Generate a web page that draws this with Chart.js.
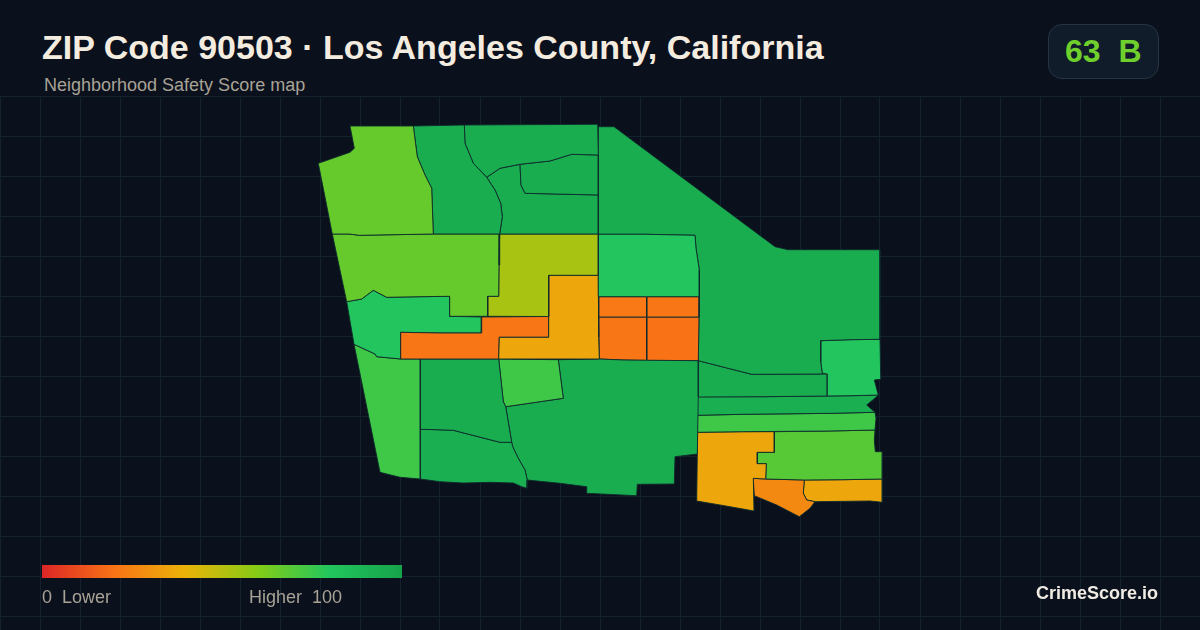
<!DOCTYPE html>
<html>
<head>
<meta charset="utf-8">
<title>ZIP Code 90503</title>
<script src="https://cdn.jsdelivr.net/npm/chart.js@4"></script>
<style>
  html, body { margin: 0; padding: 0; }
  body { width: 1200px; height: 630px; overflow: hidden; position: relative; background: #0a101c; font-family: "Liberation Sans", Arial, sans-serif; }
  #wrap { position: absolute; left: 0; top: 96px; width: 1200px; height: 534px; }
  .txt { position: absolute; white-space: pre; line-height: 1; }
  #title { left: 42px; top: 30px; font-size: 34px; font-weight: bold; color: #f5ece0; }
  #subtitle { left: 44px; top: 76px; font-size: 18px; color: #a8a296; }
  #badge { position: absolute; left: 1048px; top: 24px; width: 109px; height: 53px; border: 1px solid #263442; border-radius: 14px; background: #111c2a; }
  #grade { left: 1065px; top: 35px; font-size: 32px; font-weight: bold; color: #6fcf2c; }
  #ramp { position: absolute; left: 42px; top: 565px; width: 360px; height: 13px; }
  #low { left: 42px; top: 588px; font-size: 18px; color: #a8a296; }
  #high { left: 249px; top: 588px; font-size: 18px; color: #a8a296; }
  #brand { left: 1036px; top: 584px; font-size: 18px; font-weight: bold; color: #f0ece4; }
</style>
</head>
<body>
<div id="wrap"><canvas id="mapa"></canvas></div>
<div class="txt" id="title">ZIP Code 90503 · Los Angeles County, California</div>
<div class="txt" id="subtitle">Neighborhood Safety Score map</div>
<div id="badge"></div>
<div class="txt" id="grade">63  B</div>
<div id="ramp"></div>
<div class="txt" id="low">0  Lower</div>
<div class="txt" id="high">Higher  100</div>
<div class="txt" id="brand">CrimeScore.io</div>
<script>
// score ramp of the legend
const rampStops = [0, 20, 40, 60, 80, 100];
const rampColors = ["#dc2626", "#f97316", "#eab308", "#84cc16", "#22c55e", "#16a34a"];

// grid lines of the map frame
const gridX = [0, 40, 80, 120, 160, 200, 240, 280, 320, 360, 400, 440, 480, 520, 560, 600, 640, 680, 720, 760, 800, 840, 880, 920, 960, 1000, 1040, 1080, 1120, 1160, 1200];
const gridY = [96, 136, 176, 216, 256, 296, 336, 376, 416, 456, 496, 536, 576, 616];

// one score per neighborhood, same order as tractOutlines
const tractScores = [66, 94, 94, 94, 94, 66, 53, 80, 36, 21, 80, 74, 94, 93, 74, 94, 22, 21, 21, 20, 94, 80, 94, 93, 74, 36, 69, 27, 36];

// neighborhood outlines
const tractOutlines = [
  [[350,126],[354.3,148.3],[350,152.3],[318.3,163.3],[332.3,234],[349,234],[359.3,235.3],[433.3,234],[431.7,188.3],[425,175],[417.3,156.7],[413.3,126]],
  [[413.3,126],[464.3,125],[465,143.3],[473.3,163.3],[486.7,177.3],[495,190],[500.7,203.3],[502.3,216.7],[499.7,234],[433.3,234],[431.7,188.3],[425,175],[417.3,156.7]],
  [[464.3,125],[597.7,124.3],[598.3,155],[571.7,154.3],[550,161],[520,164.3],[500,168.3],[486.7,177.3],[473.3,163.3],[465,143.3]],
  [[520,164.3],[550,161],[571.7,154.3],[598.3,155],[598.3,195],[525,193.3],[521,185]],
  [[486.7,177.3],[500,168.3],[520,164.3],[521,185],[525,193.3],[598.3,195],[598.3,234],[499.7,234],[502.3,216.7],[500.7,203.3],[495,190]],
  [[332.3,234],[349,234],[359.3,235.3],[433.3,234],[499.7,234],[499,265],[498.7,296.3],[487.7,296.3],[487.7,316.3],[449.7,316.3],[449.7,296.3],[420,296.7],[386.7,297.3],[373.3,290.3],[361.7,299],[346.7,301.7]],
  [[499.7,234],[598.3,234],[598.3,275.3],[548.7,275.3],[548.7,316.5],[487.7,316.3],[487.7,296.3],[498.7,296.3],[499,265]],
  [[598.3,234.3],[646.7,234.3],[695,235.3],[696,248.3],[699.3,270],[699.3,296.7],[598.3,296.7]],
  [[548.7,275.3],[598.3,275.3],[598.7,296.7],[598.7,337],[599.3,359],[498.7,359],[499.3,337.3],[548.7,337.3]],
  [[400.7,332.3],[440,333],[481.3,333],[481.7,317],[548.7,316.5],[548.7,337.3],[499.3,337.3],[498.7,359],[400.7,359]],
  [[346.7,301.7],[361.7,299],[373.3,290.3],[386.7,297.3],[420,296.7],[449.7,296.3],[449.7,316.3],[481.7,317],[481.3,333],[440,333],[400.7,332.3],[400.7,359],[376.7,356.7],[375,354],[354,344.3]],
  [[354,344.3],[375,354],[376.7,356.7],[400.7,359],[420.3,359],[420.3,479],[400,477.3],[380,472.3]],
  [[420.3,359],[498.7,359],[503.3,401.7],[505.7,406.7],[511.7,442.3],[500,442.3],[453.3,430.3],[436.7,429.7],[420.3,429.3]],
  [[420.3,429.3],[436.7,429.7],[453.3,430.3],[500,442.3],[511.7,442.3],[512.7,446.7],[518.3,458.3],[525,470],[527.3,480],[527,488.3],[521.7,486.7],[513.3,483],[490,482.3],[463.3,483],[440,481.7],[420.3,479]],
  [[498.7,359],[558.3,359.7],[563.3,398.3],[505.7,406.7],[503.3,401.7]],
  [[558.3,359.7],[599.3,359],[623,360],[698.3,360.7],[698.3,396.7],[697.3,454],[686.7,455.3],[675,456.7],[674.3,484],[637.3,484.3],[636.7,495.7],[586.7,493.3],[586.7,486.7],[560,483.3],[527.3,480],[525,470],[518.3,458.3],[512.7,446.7],[511.7,442.3],[505.7,406.7],[563.3,398.3]],
  [[598.7,296.7],[646.7,296.7],[646.7,317],[598.7,317]],
  [[646.7,296.7],[699.3,296.7],[699,317],[646.7,317]],
  [[598.7,317],[646.7,317],[646.7,360.5],[623,360],[599.3,359]],
  [[646.7,317],[699,317],[698.3,360.7],[646.7,360.5]],
  [[598.3,126.7],[614,126.7],[775,246.7],[788,249.7],[880,249.7],[880,339.3],[850,339.7],[820.7,340.7],[820.7,361.7],[822.3,374],[751.7,374.3],[698.3,360.7],[699.3,296.7],[699.3,270],[696,248.3],[695,235.3],[646.7,234.3],[598.3,234.3],[598.3,195],[598.3,155]],
  [[820.7,340.7],[850,339.7],[880,339.3],[880.7,379.3],[874.3,380],[878.3,395],[852.7,395.7],[827.3,396],[827.3,374],[822.3,373.3],[820.7,361.7]],
  [[698.3,360.7],[751.7,374.3],[822.3,374],[827.3,374],[827.3,396],[763.3,396.7],[698.3,397]],
  [[697.3,396.7],[763.3,396.7],[827.3,396],[852.7,395.7],[878.3,395],[876.7,396.7],[866.7,405],[875,412.3],[833.3,413.3],[743.3,414.3],[697.3,415.3]],
  [[697.3,415.3],[743.3,414.3],[833.3,413.3],[875,412.3],[876,418.3],[875,430],[830,431],[741.7,431.7],[697.3,432.3]],
  [[697.3,432.3],[741.7,431.7],[774.3,431.7],[774.3,452.3],[757.3,452.3],[757.3,463.7],[766.3,463.7],[765.7,479],[760,478.7],[753.3,478.3],[754,511],[730,506.7],[696.7,501],[697.3,454]],
  [[774.3,431.7],[830,431],[875,430],[874.3,440],[875.3,451.7],[882.3,451.7],[882.3,479],[843.3,479.7],[804.3,480],[765.7,479],[766.3,463.7],[757.3,463.7],[757.3,452.3],[774.3,452.3]],
  [[753.3,478.3],[760,478.7],[765.7,479],[804.3,480],[803.3,493.3],[806.7,500],[815,501.7],[810,508.3],[799.3,516.7],[776.7,505],[754.3,495.7]],
  [[804.3,480],[843.3,479.7],[882.3,479],[882.3,502.3],[870,501],[815,501.7],[806.7,500],[803.3,493.3]]
];

const gridColor = "#142230";
const lineColor = "#0e2b2c";

function hexToRgb(hex) {
  return [1, 3, 5].map((i) => parseInt(hex.substr(i, 2), 16));
}

// colour of a score along the legend ramp
function scoreColor(score) {
  let i = 0;
  while (i < rampStops.length - 2 && score > rampStops[i + 1]) i++;
  const t = (score - rampStops[i]) / (rampStops[i + 1] - rampStops[i]);
  const a = hexToRgb(rampColors[i]);
  const b = hexToRgb(rampColors[i + 1]);
  const rgb = a.map((v, k) => Math.round(v + (b[k] - v) * t));
  return `rgb(${rgb[0]}, ${rgb[1]}, ${rgb[2]})`;
}

document.getElementById("ramp").style.background =
  "linear-gradient(to right, " + rampColors.map((c, i) => `${c} ${rampStops[i]}%`).join(", ") + ")";

const datasets = tractOutlines.map((outline, i) => ({
  label: "tract " + (i + 1),
  data: outline.concat([outline[0]]).map((p) => ({ x: p[0], y: p[1] })),
  showLine: true,
  fill: "shape",
  tension: 0,
  pointRadius: 0,
  backgroundColor: scoreColor(tractScores[i]),
  borderColor: lineColor,
  borderWidth: 0.9,
}));

new Chart(document.getElementById("mapa"), {
  type: "scatter",
  data: { datasets: datasets },
  options: {
    responsive: true,
    maintainAspectRatio: false,
    animation: false,
    events: [],
    layout: { padding: 0 },
    plugins: { legend: { display: false }, tooltip: { enabled: false } },
    scales: {
      x: {
        type: "linear",
        min: 0,
        max: 1200,
        afterBuildTicks: (scale) => { scale.ticks = gridX.map((v) => ({ value: v })); },
        ticks: { display: false },
        border: { display: false },
        grid: { color: gridColor, lineWidth: 1, drawTicks: false },
      },
      y: {
        type: "linear",
        reverse: true,
        min: 96,
        max: 630,
        afterBuildTicks: (scale) => { scale.ticks = gridY.map((v) => ({ value: v })); },
        ticks: { display: false },
        border: { display: false },
        grid: { color: gridColor, lineWidth: 1, drawTicks: false },
      },
    },
  },
});
</script>
</body>
</html>
